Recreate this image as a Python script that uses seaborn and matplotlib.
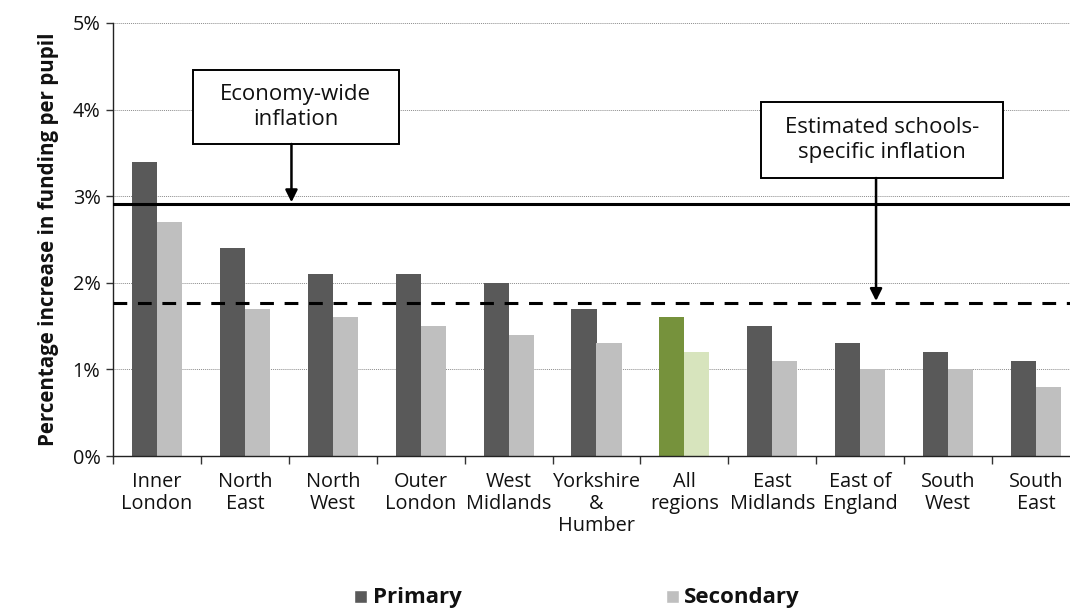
import matplotlib
matplotlib.use("Agg")
import matplotlib.pyplot as plt
from matplotlib.patches import Rectangle
from matplotlib.ticker import FixedLocator, FuncFormatter
import seaborn as sns
import pandas as pd

regions = ["Inner\nLondon", "North\nEast", "North\nWest", "Outer\nLondon", "West\nMidlands",
           "Yorkshire\n&\nHumber", "All\nregions", "East\nMidlands", "East of\nEngland",
           "South\nWest", "South\nEast"]
primary = [3.4, 2.4, 2.1, 2.1, 2.0, 1.7, 1.6, 1.5, 1.3, 1.2, 1.1]
secondary = [2.7, 1.7, 1.6, 1.5, 1.4, 1.3, 1.2, 1.1, 1.0, 1.0, 0.8]
economy_inflation = 2.91
schools_inflation = 1.77
series = ["Primary", "Secondary"]

df = pd.DataFrame({
    "region": regions * 2,
    "value": primary + secondary,
    "phase": [series[0]] * len(regions) + [series[1]] * len(regions),
})

sns.set_style("white")
plt.rcParams["font.family"] = ["Open Sans", "DejaVu Sans"]

fig = plt.figure(figsize=(10.70, 6.08), dpi=100)
ax = fig.add_axes([113 / 1070, 1 - 456 / 608, 967 / 1070, 433 / 608])

colors = {"Primary": "#595959", "Secondary": "#BFBFBF"}
sns.barplot(data=df, x="region", y="value", hue="phase", palette=colors,
            order=regions, hue_order=series, width=0.57, ax=ax, legend=False,
            saturation=1, edgecolor="none")

# highlight the all-regions group in green
highlight = regions.index("All\nregions")
for container, col in zip(ax.containers, ["#76923C", "#D7E4BD"]):
    container.patches[highlight].set_facecolor(col)

ax.set_ylim(0, 5)
ax.set_xlim(-0.5, len(regions) - 0.5)
ax.yaxis.set_major_locator(FixedLocator([0, 1, 2, 3, 4, 5]))
ax.yaxis.set_major_formatter(FuncFormatter(lambda v, _: f"{v:.0f}%"))
ax.grid(axis="y", color="#8c8c8c", linestyle=(0, (1, 1)), linewidth=0.7)
ax.set_axisbelow(True)

for s in ["top", "right"]:
    ax.spines[s].set_visible(False)
for s in ["left", "bottom"]:
    ax.spines[s].set_color("#222222")
    ax.spines[s].set_linewidth(1.0)

ax.tick_params(axis="y", which="major", left=True, length=5, width=1, color="#333333",
               labelsize=14.3, pad=4, labelcolor="#111111")
ax.tick_params(axis="x", which="major", bottom=False, labelsize=14.3, pad=8, labelcolor="#111111")
ax.xaxis.set_minor_locator(FixedLocator([i - 0.5 for i in range(len(regions) + 1)]))
ax.tick_params(axis="x", which="minor", bottom=True, length=6, width=1, color="#333333")
for lbl in ax.get_xticklabels():
    lbl.set_linespacing(1.12)
    lbl.set_verticalalignment("top")

ax.set_xlabel("")
ax.set_ylabel("Percentage increase in funding per pupil", fontsize=14.8, fontweight="bold",
              labelpad=10, color="#111111")

# inflation reference lines
ax.axhline(economy_inflation, color="black", linewidth=2.2, zorder=3)
ax.axhline(schools_inflation, color="black", linewidth=2.2, linestyle=(0, (4.5, 3.5)), zorder=3)

# callout boxes with arrows
boxes = [
    ("Economy-wide\ninflation", (0.41, 3.603, 2.34, 0.854), 1.53, economy_inflation),
    ("Estimated schools-\nspecific inflation", (6.875, 3.21, 2.75, 0.878), 8.18, schools_inflation),
]
for text, (bx, by, bw, bh), ax_x, target in boxes:
    ax.add_patch(Rectangle((bx, by), bw, bh, facecolor="white", edgecolor="black",
                           linewidth=1.4, zorder=5))
    ax.text(bx + bw / 2, by + bh / 2, text, ha="center", va="center", fontsize=16,
            linespacing=1.2, zorder=6, color="#111111")
    ax.annotate("", xy=(ax_x, target + 0.02), xytext=(ax_x, by),
                arrowprops=dict(arrowstyle="-|>", color="black", lw=1.8, mutation_scale=18,
                                shrinkA=0, shrinkB=0), zorder=6)

# legend below the axes
fig.patches.append(Rectangle((354 / 1070, 1 - 603 / 608), 13 / 1070, 13 / 608,
                             transform=fig.transFigure, facecolor=colors["Primary"]))
fig.text(373 / 1070, 1 - 597 / 608, "Primary", fontsize=16, fontweight="bold",
         va="center", ha="left", color="#111111")
fig.patches.append(Rectangle((666 / 1070, 1 - 603 / 608), 13 / 1070, 13 / 608,
                             transform=fig.transFigure, facecolor=colors["Secondary"]))
fig.text(684 / 1070, 1 - 597 / 608, "Secondary", fontsize=16, fontweight="bold",
         va="center", ha="left", color="#111111")

fig.savefig("out.png", dpi=100)
